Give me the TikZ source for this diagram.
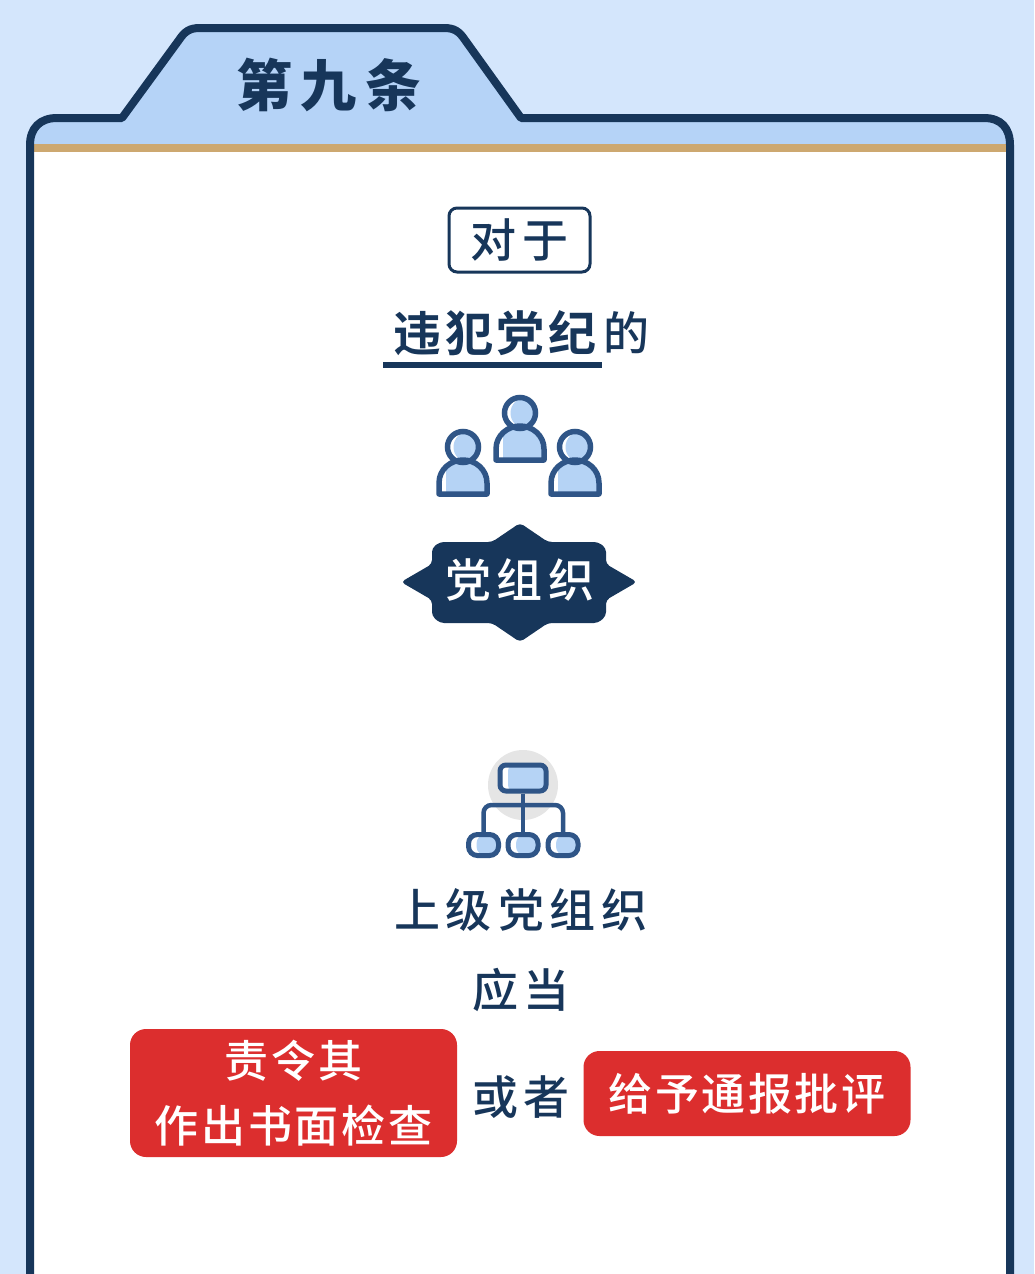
\documentclass[tikz,border=0pt]{standalone}
\usepackage{fontspec}
\usetikzlibrary{positioning}
\newfontfamily\cjk[LetterSpace=13]{Noto Sans CJK SC Medium}
\newfontfamily\cjkred[LetterSpace=6]{Noto Sans CJK SC Medium}
\newfontfamily\cjkbold[LetterSpace=8]{Noto Sans CJK SC Bold}
\newfontfamily\cjkblack[LetterSpace=16]{Noto Sans CJK SC Black}
\definecolor{pagebg}{HTML}{D4E6FC}
\definecolor{navy}{HTML}{17365A}
\definecolor{headbg}{HTML}{B5D3F7}
\definecolor{tanband}{HTML}{CDA870}
\definecolor{iconline}{HTML}{2F5587}
\definecolor{iconblue}{HTML}{B5D3F5}
\definecolor{redbox}{HTML}{DC2E2E}
\def\cardpath{(30,1300)--(30,145)..controls(30,128)and(40,118)..(57,118)--(122,118)--(179,40)..controls(185,31)and(190,28)..(200,28)--(444,28)..controls(454,28)and(459,31)..(465,40)--(521,118)--(984,118)..controls(1001,118)and(1010,128)..(1010,145)--(1010,1300)}
\def\bodypath{(-24,47)--(-24,36)..controls(-24,22)and(-12,13)..(0,13)..controls(12,13)and(24,22)..(24,36)--(24,47)--cycle}
\tikzset{
    line/.style={font=\cjk\fontsize{46}{50}\selectfont, text=navy, inner sep=0pt},
    strong/.style={font=\cjkbold\fontsize{48}{50}\selectfont, text=navy, inner sep=0pt},
    redtag/.style={fill=redbox, rounded corners=16pt, text=white, align=center, inner sep=0pt,
        font=\cjkred\fontsize{44}{65}\selectfont},
    orgbox/.style={draw=iconline, line width=5pt, inner sep=0pt,
        path picture={\fill[white](path picture bounding box.south west)rectangle(path picture bounding box.north east);
        \fill[iconblue]([xshift=8pt]path picture bounding box.south west)rectangle(path picture bounding box.north east);}},
    person/.pic={
        \begin{scope}
            \clip(0,0)circle(15.5);
            \fill[white](0,0)circle(15.5);
            \fill[iconblue](6,0)circle(15.5);
        \end{scope}
        \begin{scope}
            \clip\bodypath;
            \fill[white](-25,10)rectangle(25,47);
            \fill[iconblue](-17,10)rectangle(25,47);
        \end{scope}
        \draw[iconline,line width=5.5pt](0,0)circle(15.5);
        \draw[iconline,line width=5.5pt,line join=round]\bodypath;
    }
}
\begin{document}
\begin{tikzpicture}[x=1pt,y=-1pt]
    \useasboundingbox(0,0)rectangle(1034,1274);
    \fill[pagebg](0,0)rectangle(1034,1274);

    % card
    \fill[headbg]\cardpath--cycle;
    \fill[white](30,148)rectangle(1010,1274);
    \fill[tanband](34,144)rectangle(1006,152);
    \draw[navy,line width=8pt,line join=round]\cardpath;
    \node(title)[font=\cjkblack\fontsize{56}{56}\selectfont,text=navy,inner sep=0pt]at(329,85){第九条};

    % first lines
    \node(dui)[line,draw=navy,line width=3pt,rounded corners=8pt,minimum width=141pt,minimum height=64pt]at(519.5,240){对于};
    \node(weifan)[strong]at(495,333){违犯党纪};
    \node(de)[line,right=6pt of weifan]{的};
    \draw[navy,line width=6pt](383,365)--(602,365);

    % people
    \foreach \px/\py in {520/413,463/447,575/447}
        \pic at(\px,\py){person};

    % badge
    \fill[navy,rounded corners=4pt](401,582)--(432,564)--(432,548)--(440,542)--(492,542)--(520,523)--(548,542)--(598,542)--(606,548)--(606,564)--(637,582)--(606,600)--(606,616)--(598,623)--(548,623)--(520,642)--(492,623)--(440,623)--(432,616)--(432,600)--cycle;
    \node(dangzuzhi)[line,text=white]at(520,580){党组织};

    % organisation icon
    \fill[black!10](523,785)circle(35);
    \node(orgtop)[orgbox,rounded corners=6pt,minimum width=46pt,minimum height=26pt]at(523,778){};
    \node(orgleft)[orgbox,rounded corners=9pt,minimum width=30pt,minimum height=21pt]at(483.5,845){};
    \node(orgmid)[orgbox,rounded corners=9pt,minimum width=30pt,minimum height=21pt]at(523,845){};
    \node(orgright)[orgbox,rounded corners=9pt,minimum width=30pt,minimum height=21pt]at(563,845){};
    \coordinate(orgbus)at(523,805);
    \draw[iconline,line width=4.5pt](orgtop.south)--(orgmid.north);
    \draw[iconline,line width=4.5pt,rounded corners=8pt](orgleft.north)|-(orgbus)-|(orgright.north);

    % lower lines
    \node(superior)[line]at(521,910){上级党组织};
    \node(yingdang)[line]at(521,990){应当};
    \node(jianzha)[redtag,minimum width=327pt,minimum height=128pt]at(293.5,1093){责令其\\作出书面检查};
    \node(huozhe)[line]at(521,1097){或者};
    \node(tongbao)[redtag,minimum width=327pt,minimum height=85pt]at(747,1093.5){给予通报批评};
\end{tikzpicture}
\end{document}
